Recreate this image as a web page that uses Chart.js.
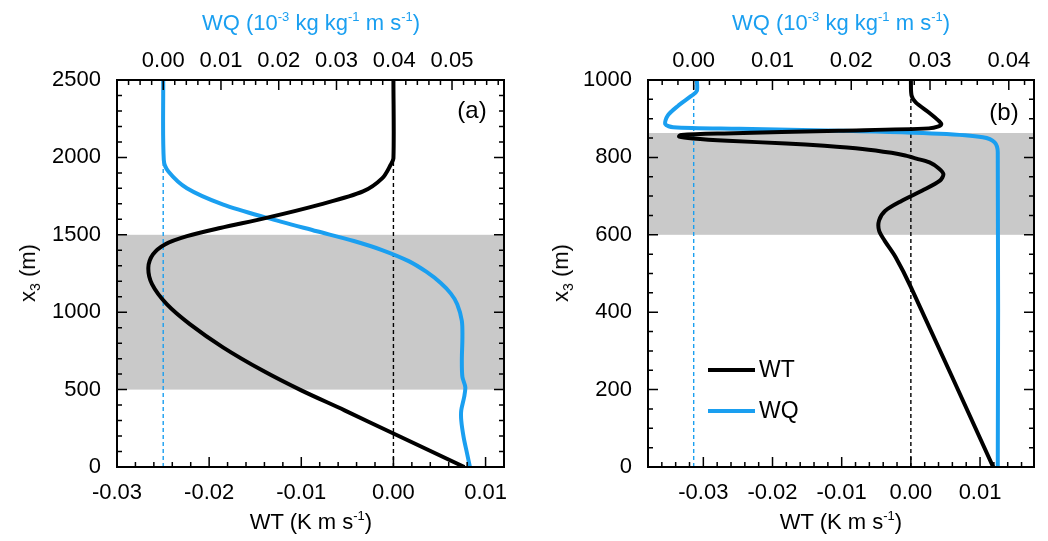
<!DOCTYPE html>
<html>
<head>
<meta charset="utf-8">
<script src="https://cdn.jsdelivr.net/npm/chart.js@4.4.1/dist/chart.umd.min.js"></script>
<style>
  body { margin: 0; background: #fff; font-family: "Liberation Sans", Arial, sans-serif; }
  #wrap { position: relative; width: 1048px; height: 541px; overflow: hidden; }
  .panel { position: absolute; top: 0; width: 524px; height: 541px; }
  .txt { position: absolute; transform: translate(-50%, -50%); white-space: nowrap; color: #000; font-size: 22px; line-height: 1; }
  .txt sup { font-size: 13px; position: relative; top: -9px; vertical-align: baseline; }
  .txt sub { font-size: 14px; position: relative; top: 5px; vertical-align: baseline; }
  .blue { color: #1a9ff0; }
  .rot { transform: translate(-50%, -50%) rotate(-90deg); }
  .leg { position: absolute; font-size: 23px; line-height: 1; }
  .leg span { display: inline-block; width: 47px; height: 4px; vertical-align: middle; margin-right: 4px; position: relative; top: -1px; }
</style>
</head>
<body>
<div id="wrap">
  <div class="panel" style="left:0"><canvas id="chartA"></canvas></div>
  <div class="panel" style="left:524px"><canvas id="chartB"></canvas></div>

  <div class="txt blue" style="left:311px; top:23px;">WQ (10<sup>-3</sup> kg kg<sup>-1</sup> m s<sup>-1</sup>)</div>
  <div class="txt blue" style="left:841px; top:23px;">WQ (10<sup>-3</sup> kg kg<sup>-1</sup> m s<sup>-1</sup>)</div>
  <div class="txt" style="left:311px; top:522px;">WT (K m s<sup>-1</sup>)</div>
  <div class="txt" style="left:841px; top:522px;">WT (K m s<sup>-1</sup>)</div>
  <div class="txt rot" style="left:28px; top:273px;">x<sub>3</sub> (m)</div>
  <div class="txt rot" style="left:561px; top:273px;">x<sub>3</sub> (m)</div>
  <div class="txt" style="left:472px; top:110px; font-size:24px;">(a)</div>
  <div class="txt" style="left:1004px; top:112px; font-size:24px;">(b)</div>

  <div class="leg" style="left:708px; top:358px;"><span style="background:#000"></span>WT</div>
  <div class="leg" style="left:708px; top:399px;"><span style="background:#1a9ff0"></span>WQ</div>
</div>

<script>
// panel (a)
const heightWtA = [0, 216, 366, 495, 623, 773, 923, 1052, 1181, 1287, 1373, 1438, 1491, 1544, 1609, 1695, 1780, 1866, 1952, 1994, 2500];
const wtA = [0.0077, 0.0, -0.0053, -0.0100, -0.0142, -0.0185, -0.0221, -0.0246, -0.0262, -0.0266, -0.0261, -0.0248, -0.0224, -0.0188, -0.0138, -0.0080, -0.0033, -0.0012, -0.0003, 0.0, 0.0];
const heightWqA = [0, 88, 195, 301, 366, 452, 516, 581, 688, 838, 945, 1052, 1120, 1190, 1260, 1330, 1400, 1460, 1523, 1609, 1695, 1801, 1909, 1984, 2500];
const wqA = [0.0531, 0.0526, 0.0520, 0.0516, 0.0516, 0.0521, 0.0523, 0.0518, 0.0517, 0.0518, 0.0517, 0.0509, 0.0498, 0.0480, 0.0456, 0.0425, 0.0380, 0.0330, 0.0266, 0.0180, 0.0104, 0.0041, 0.0009, 0.0001, 0.0];
const bandA = [500, 1500];

// panel (b)
const heightWtB = [0, 465, 542, 585, 611, 637, 662, 688, 714, 740, 757, 772, 787, 797, 805, 812, 822, 830, 836, 843, 849, 854, 858, 862, 869, 875, 880, 886, 895, 916, 942, 960, 1000];
const wtB = [0.0119, 0.0, -0.0022, -0.0038, -0.0046, -0.0046, -0.0037, -0.0013, 0.0016, 0.0042, 0.0047, 0.0040, 0.0027, 0.0008, -0.0008, -0.0028, -0.0070, -0.0125, -0.0180, -0.0265, -0.0315, -0.0335, -0.0332, -0.0270, -0.0104, 0.0026, 0.0040, 0.0044, 0.0040, 0.0026, 0.0007, 0.0001, 0.0];
const heightWqB = [0, 813, 839, 852, 861, 869, 874, 878, 886, 908, 933, 959, 972, 1000];
const wqB = [0.0386, 0.0386, 0.0382, 0.0367, 0.0312, 0.0185, 0.0058, -0.0026, -0.0036, -0.0033, -0.0020, -0.0003, 0.0004, 0.0004];
const bandB = [600, 863];

const BLUE = '#1a9ff0';
Chart.defaults.font.family = '"Liberation Sans", Arial, sans-serif';
Chart.defaults.color = '#000';

function pts(xs, ys) {
  return xs.map((v, i) => ({ x: v, y: ys[i] }));
}

// grey band under the curves, frame and inward ticks on top
const frame = {
  id: 'frame',
  beforeDatasetsDraw(chart, args, o) {
    const { ctx, chartArea: a, scales } = chart;
    const y1 = scales.y.getPixelForValue(o.band[1]);
    const y0 = scales.y.getPixelForValue(o.band[0]);
    ctx.save();
    ctx.fillStyle = '#c9c9c9';
    ctx.fillRect(a.left, y1, a.right - a.left, y0 - y1);
    ctx.restore();
  },
  afterDatasetsDraw(chart, args, o) {
    const { ctx, chartArea: a, scales } = chart;
    ctx.save();
    ctx.strokeStyle = '#000';
    ctx.lineWidth = 1.5;
    const each = (sc, major, minor, fn) => {
      const k0 = Math.ceil(sc.min / minor - 1e-6);
      const k1 = Math.floor(sc.max / minor + 1e-6);
      for (let k = k0; k <= k1; k++) {
        const v = k * minor;
        const isMajor = Math.abs(Math.round(v / major) * major - v) < minor / 10;
        fn(sc.getPixelForValue(v), isMajor ? 10 : 5);
      }
    };
    ctx.beginPath();
    each(scales.x, o.x[0], o.x[1], (p, l) => { ctx.moveTo(p, a.bottom); ctx.lineTo(p, a.bottom - l); });
    each(scales.x2, o.x2[0], o.x2[1], (p, l) => { ctx.moveTo(p, a.top); ctx.lineTo(p, a.top + l); });
    each(scales.y, o.y[0], o.y[1], (p, l) => {
      ctx.moveTo(a.left, p); ctx.lineTo(a.left + l, p);
      ctx.moveTo(a.right, p); ctx.lineTo(a.right - l, p);
    });
    ctx.stroke();
    ctx.lineWidth = 2;
    ctx.strokeRect(a.left, a.top, a.right - a.left, a.bottom - a.top);
    ctx.restore();
  }
};

function makeChart(id, cfg) {
  const fmt = v => Number(v).toFixed(2);
  new Chart(document.getElementById(id), {
    type: 'scatter',
    data: {
      datasets: [
        { data: pts(cfg.wt, cfg.hWt), xAxisID: 'x', borderColor: '#000', borderWidth: 4, order: 0 },
        { data: pts(cfg.wq, cfg.hWq), xAxisID: 'x2', borderColor: BLUE, borderWidth: 4, order: 1 },
        { data: [{ x: 0, y: 0 }, { x: 0, y: cfg.yMax }], xAxisID: 'x', borderColor: '#000', borderWidth: 1.4, borderDash: [4, 3], order: 2 },
        { data: [{ x: 0, y: 0 }, { x: 0, y: cfg.yMax }], xAxisID: 'x2', borderColor: BLUE, borderWidth: 1.4, borderDash: [4, 3], order: 2 }
      ].map(d => Object.assign(d, { showLine: true, pointRadius: 0, tension: d.borderDash ? 0 : 0.3 }))
    },
    options: {
      responsive: true,
      maintainAspectRatio: false,
      animation: false,
      layout: { padding: { left: 0, right: cfg.padRight, top: 0, bottom: 0 } },
      plugins: {
        legend: { display: false },
        tooltip: { enabled: false },
        frame: { band: cfg.band, x: [0.01, 0.002], x2: [0.01, 0.002], y: cfg.yTicks }
      },
      scales: {
        x: {
          type: 'linear', position: 'bottom', min: cfg.wtRange[0], max: cfg.wtRange[1],
          grid: { display: false, drawTicks: false }, border: { display: false },
          ticks: { stepSize: 0.01, includeBounds: false, padding: 13, font: { size: 22 }, callback: fmt },
          afterFit: s => { s.height = 74; }
        },
        x2: {
          type: 'linear', position: 'top', min: cfg.wqRange[0], max: cfg.wqRange[1],
          grid: { display: false, drawTicks: false }, border: { display: false },
          ticks: { stepSize: 0.01, includeBounds: false, padding: 6, font: { size: 22 }, callback: fmt },
          afterFit: s => { s.height = 80; }
        },
        y: {
          type: 'linear', min: 0, max: cfg.yMax,
          grid: { display: false, drawTicks: false }, border: { display: false },
          ticks: { stepSize: cfg.yTicks[0], includeBounds: false, padding: 16, font: { size: 22 }, callback: v => String(v) },
          afterFit: s => { s.width = cfg.yWidth; }
        }
      }
    },
    plugins: [frame]
  });
}

makeChart('chartA', {
  wt: wtA, hWt: heightWtA, wq: wqA, hWq: heightWqA, band: bandA,
  yMax: 2500, yTicks: [500, 100], yWidth: 117, padRight: 20,
  wtRange: [-0.03, 0.012], wqRange: [-0.008, 0.059]
});

makeChart('chartB', {
  wt: wtB, hWt: heightWtB, wq: wqB, hWq: heightWqB, band: bandB,
  yMax: 1000, yTicks: [200, 50], yWidth: 124, padRight: 14,
  wtRange: [-0.038, 0.0178], wqRange: [-0.0058, 0.0432]
});
</script>
</body>
</html>
